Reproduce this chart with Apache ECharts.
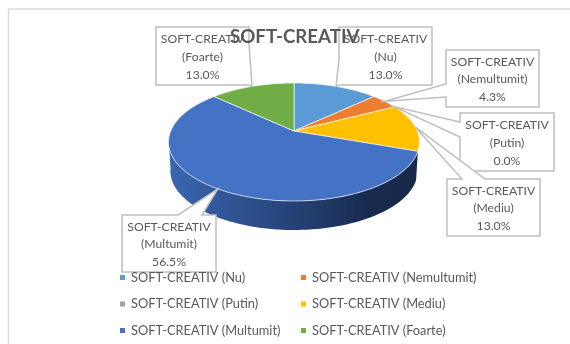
<!DOCTYPE html>
<html>
<head>
<meta charset="utf-8">
<style>
  html, body { margin: 0; padding: 0; background: #fff; }
  #chart { width: 570px; height: 344px; }
</style>
<script src="https://cdn.jsdelivr.net/npm/echarts@6/dist/echarts.min.js"></script>
</head>
<body>
<div id="chart"></div>
<script>
var chartTitle = 'SOFT-CREATIV';
var categories = ['Nu', 'Nemultumit', 'Putin', 'Mediu', 'Multumit', 'Foarte'];
// respondent counts, 23 in total
var counts = [3, 1, 0, 3, 13, 3];
var colors = ['#5b9bd5', '#ed7d31', '#a5a5a5', '#ffc000', '#4472c4', '#70ad47'];

var names = categories.map(function (c) { return chartTitle + ' (' + c + ')'; });
var total = counts.reduce(function (a, b) { return a + b; }, 0);

// tilted disc, solved from the reference rim
var CX = 294, CY = 131, RX = 123.3, RY = 56.95, PERSP = 0.1864, DEPTH = 29;

function rim(deg, dy, sx) {
  var t = deg * Math.PI / 180;
  var u = Math.sin(t), v = -Math.cos(t);
  var d = 1 - PERSP * v;
  return [CX + (sx || 1) * RX * u / d, CY + RY * v / d + (dy || 0)];
}

function startAngle(i) {
  var s = 0;
  for (var k = 0; k < i; k++) s += counts[k];
  return s / total * 360;
}

function arc(from, to, dy, sx) {
  var pts = [];
  var n = Math.max(2, Math.ceil(Math.abs(to - from) / 2));
  for (var k = 0; k <= n; k++) pts.push(rim(from + (to - from) * k / n, dy, sx));
  return pts;
}

// callout boxes: x, y, w, h, side the pointer leaves from, pointer base
var boxes = [
  { r: [339, 27, 93, 58], side: 'left', base: [60, 85] },
  { r: [446, 50, 93, 57], side: 'left', base: [84, 97] },
  { r: [460, 113, 94, 58], side: 'left', base: [122, 137] },
  { r: [447, 179, 93, 57], side: 'top', base: [462, 485] },
  { r: [122, 215, 94, 57], side: 'top', base: [178, 202] },
  { r: [156, 27, 93, 58], side: 'right', base: [44, 85] }
];

function calloutShape(b, tip) {
  var x = b.r[0], y = b.r[1], x2 = x + b.r[2], y2 = y + b.r[3];
  var p0 = b.base[0], p1 = b.base[1];
  if (b.side === 'top') {
    return [[x, y], [p0, y], tip, [p1, y], [x2, y], [x2, y2], [x, y2]];
  }
  if (b.side === 'right') {
    return [[x, y], [x2, y], [x2, p0], tip, [x2, p1], [x2, y2], [x, y2]];
  }
  return [[x, y], [x2, y], [x2, y2], [x, y2], [x, p1], tip, [x, p0]];
}

function renderSlice(i) {
  return function () {
    var a0 = startAngle(i), a1 = a0 + counts[i] / total * 360;
    var children = [];
    // only the big slice shows a side wall in front
    if (categories[i] === 'Multumit') {
      var top = arc(a0, 262);
      var bottom = arc(262, a0, DEPTH, 0.985);
      children.push({
        type: 'polygon',
        shape: { points: top.concat(bottom) },
        style: {
          fill: new echarts.graphic.LinearGradient(170, 0, 420, 0, [
            { offset: 0, color: '#3a66b0' },
            { offset: 0.45, color: '#27457c' },
            { offset: 0.8, color: '#182a4e' },
            { offset: 1, color: '#172848' }
          ], true)
        }
      });
    }
    if (counts[i] > 0) {
      children.push({
        type: 'polygon',
        shape: { points: [[CX, CY]].concat(arc(a0, a1)) },
        style: { fill: colors[i], stroke: 'rgba(255,255,255,0.65)', lineWidth: 1 }
      });
    }
    return { type: 'group', children: children };
  };
}

function renderCallout(params, api) {
  var i = api.value(0);
  var b = boxes[i];
  var a = startAngle(i) + counts[i] / total * 180;
  var pct = (counts[i] / total * 100).toFixed(1) + '%';
  return {
    type: 'group',
    children: [{
      type: 'polygon',
      shape: { points: calloutShape(b, rim(a)) },
      style: { fill: '#fff', stroke: '#bfbfbf', lineWidth: 1.5 }
    }, {
      type: 'text',
      style: {
        x: b.r[0] + b.r[2] / 2,
        y: b.r[1] + b.r[3] / 2 + 1,
        text: chartTitle + '\n(' + categories[i] + ')\n' + pct,
        align: 'center',
        verticalAlign: 'middle',
        fill: '#595959',
        font: '12.2px Lato',
        lineHeight: 17.7
      }
    }]
  };
}

var series = names.map(function (n, i) {
  return {
    name: n,
    type: 'custom',
    coordinateSystem: 'none',
    silent: true,
    z: 2,
    itemStyle: { color: colors[i] },
    data: [counts[i]],
    renderItem: renderSlice(i)
  };
});
series.push({
  name: 'labels',
  type: 'custom',
  coordinateSystem: 'none',
  silent: true,
  z: 3,
  data: categories.map(function (c, i) { return [i]; }),
  renderItem: renderCallout
});

function legendColumn(left, idx) {
  return {
    orient: 'vertical',
    left: left,
    top: 266,
    z: 6,
    itemWidth: 5,
    itemHeight: 5,
    itemGap: 13.5,
    icon: 'rect',
    selectedMode: false,
    textStyle: { color: '#595959', fontSize: 12.8, fontFamily: 'Lato', padding: [0, 0, 0, 1] },
    data: idx.map(function (i) { return names[i]; })
  };
}

var myChart = echarts.init(document.getElementById('chart'), null, { renderer: 'canvas' });
myChart.setOption({
  animation: false,
  backgroundColor: '#fff',
  title: {
    text: chartTitle,
    left: 230,
    top: 27,
    padding: 0,
    z: 7,
    textStyle: { color: '#595959', fontSize: 18.7, fontWeight: 'bold', fontFamily: 'Lato' }
  },
  graphic: [{
    type: 'polyline',
    silent: true,
    z: 1,
    shape: { points: [[8.5, 344], [8.5, 9], [570, 9]] },
    style: { fill: null, stroke: '#dcdcdc', lineWidth: 1.5 }
  }],
  legend: [legendColumn(115, [0, 2, 4]), legendColumn(296, [1, 3, 5])],
  series: series
});
</script>
</body>
</html>
